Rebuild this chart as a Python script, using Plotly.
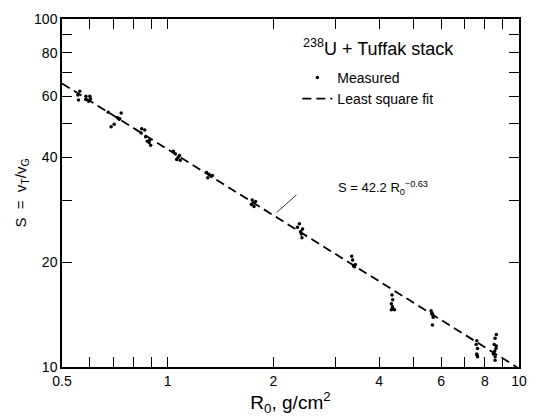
import plotly.graph_objects as go

# Measured points (R0 in g/cm^2, S = vT/vG)
R_meas = [0.555, 0.562, 0.557, 0.585, 0.600, 0.584, 0.595, 0.603,
          0.677, 0.737, 0.720, 0.727, 0.730, 0.690, 0.704,
          0.843, 0.860, 0.840, 0.865, 0.890, 0.885, 0.894, 0.875,
          1.037, 1.050, 1.070, 1.085, 1.080, 1.060,
          1.29, 1.31, 1.33, 1.30, 1.34,
          1.74, 1.75, 1.78, 1.76, 1.73,
          2.37, 2.34, 2.42, 2.40, 2.41, 2.39,
          3.34, 3.36, 3.38, 3.42, 3.40,
          4.35, 4.37, 4.33, 4.36, 4.33, 4.42, 4.38,
          5.62, 5.65, 5.68, 5.70, 5.66, 5.67,
          7.58, 7.55, 7.62, 7.58, 7.62, 7.60,
          8.62, 8.55, 8.50, 8.60, 8.62, 8.52, 8.45, 8.55, 8.55]
S_meas = [60.5, 62.0, 58.5, 60.0, 60.0, 58.7, 58.0, 59.0,
          54.0, 53.7, 52.0, 51.5, 51.7, 49.0, 49.8,
          48.4, 48.0, 47.0, 45.9, 45.0, 44.2, 43.4, 44.5,
          41.7, 41.0, 40.0, 39.3, 40.5, 39.5,
          36.2, 35.8, 35.3, 35.0, 35.5,
          30.2, 29.6, 29.9, 28.9, 29.3,
          25.8, 25.2, 24.9, 24.1, 23.5, 24.5,
          20.8, 20.3, 19.5, 19.7, 19.4,
          16.1, 15.6, 15.2, 14.9, 14.6, 14.6, 14.7,
          14.5, 14.3, 14.1, 13.9, 14.2, 13.2,
          11.9, 11.6, 11.3, 10.9, 10.7, 10.8,
          12.4, 12.1, 11.6, 11.3, 11.5, 11.1, 10.9, 10.7, 10.45]

# Least square fit line S = 42.2 R0^-0.63 (end points)
R_fit = [0.5, 10.0]
S_fit = [65.3, 9.9]

# Axis ticks
x_tickvals = [0.5, 1, 2, 4, 6, 8, 10]
x_ticktext = ["0.5", "1", "2", "4", "6", "8", "10"]
x_minorvals = [0.6, 0.7, 0.8, 0.9, 3, 5, 7, 9]
y_tickvals = [10, 20, 40, 60, 80, 100]
y_ticktext = ["10", "20", "40", "60", "80", "100"]
y_minorvals = [30, 50, 70, 90]

FONT = "Liberation Sans, Arial, Helvetica, sans-serif"

fig = go.Figure()
fig.add_trace(go.Scatter(
    x=R_meas, y=S_meas, mode="markers", name="Measured",
    marker=dict(color="black", size=3.5, symbol="circle"),
))
fig.add_trace(go.Scatter(
    x=R_fit, y=S_fit, mode="lines", name="Least square fit",
    line=dict(color="black", width=1.8, dash="9px,5px"),
))

axis_style = dict(
    showgrid=False, zeroline=False, showline=True, linecolor="black",
    linewidth=1.5, mirror="ticks", ticks="inside", ticklen=10,
    tickwidth=1.2, tickcolor="#000000",
    tickfont=dict(family=FONT, size=14, color="black"),
)
minor_style = dict(tickmode="array", ticks="inside", ticklen=10,
                   tickwidth=1.2, tickcolor="#000000", showgrid=False)

fig.update_xaxes(
    type="log", range=[-0.30103, 1.0],
    tickmode="array", tickvals=x_tickvals, ticktext=x_ticktext,
    minor=dict(minor_style, tickvals=x_minorvals),
    title=dict(text="R<sub>0</sub>, g/cm<sup>2</sup>",
               font=dict(family=FONT, size=19, color="black"), standoff=4),
    **axis_style,
)
fig.update_yaxes(
    type="log", range=[1.0, 2.0],
    tickmode="array", tickvals=y_tickvals, ticktext=y_ticktext,
    minor=dict(minor_style, tickvals=y_minorvals),
    title=dict(text="S  =  v<sub>T</sub>/v<sub>G</sub>",
               font=dict(family=FONT, size=15, color="black"), standoff=4),
    **axis_style,
)

fig.update_layout(
    width=538, height=417,
    margin=dict(l=62, r=12, t=11, b=48),
    paper_bgcolor="white", plot_bgcolor="white",
    font=dict(family=FONT, color="black"),
    showlegend=True,
    legend=dict(
        x=0.515, y=0.877, xanchor="left", yanchor="top",
        bgcolor="rgba(0,0,0,0)", borderwidth=0,
        font=dict(family=FONT, size=14, color="black"),
        itemwidth=30, tracegroupgap=0,
    ),
    annotations=[
        dict(
            x=0.524, y=0.918, xref="paper", yref="paper",
            xanchor="left", yanchor="middle", showarrow=False,
            text="<sup>238</sup>U + Tuffak stack",
            font=dict(family=FONT, size=18, color="black"),
        ),
        dict(
            x=0.599, y=0.514, xref="paper", yref="paper",
            xanchor="left", yanchor="middle", showarrow=False,
            text="S = 42.2 R<sub>0</sub><sup>\u22120.63</sup>",
            font=dict(family=FONT, size=13, color="black"),
        ),
    ],
    shapes=[
        dict(type="line", xref="paper", yref="paper",
             x0=0.4698, y0=0.4441, x1=0.5129, y1=0.4944,
             line=dict(color="black", width=0.8)),
    ],
)

fig.write_html("out.html")
